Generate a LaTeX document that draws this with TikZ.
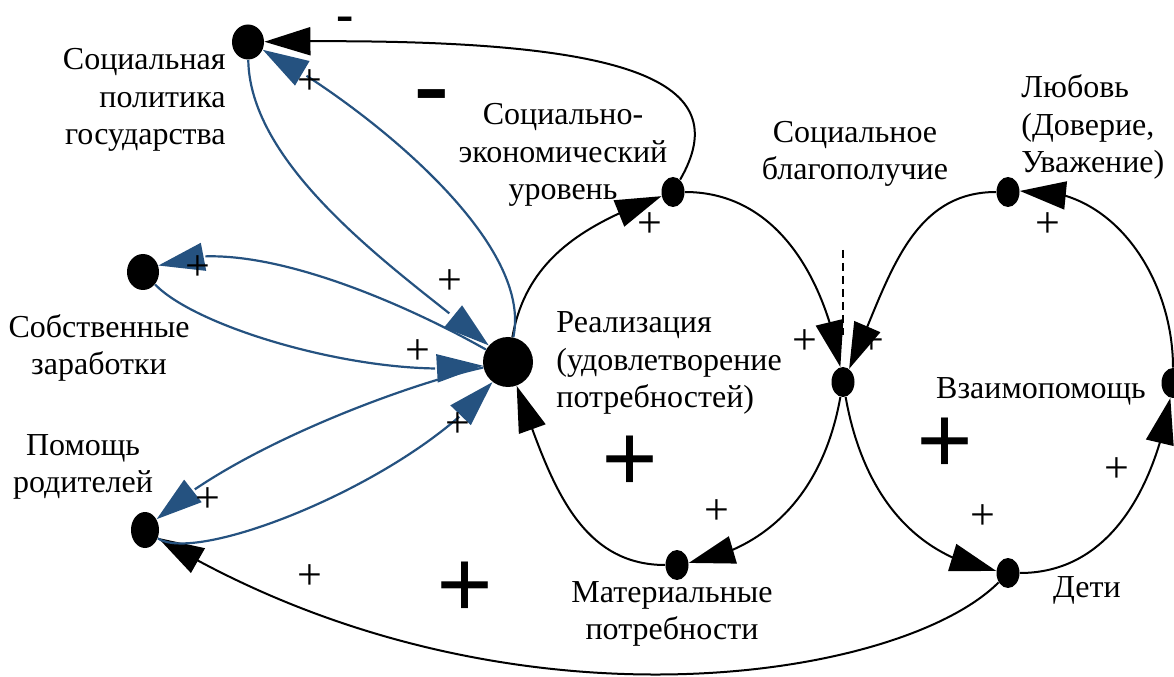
\documentclass[tikz,border=0pt]{standalone}
\usepackage{fontspec}
\setmainfont{Liberation Serif}
\usetikzlibrary{arrows.meta}
\usetikzlibrary{bending}
\usetikzlibrary{shapes.geometric}
\definecolor{linkblue}{RGB}{37,82,128}

\begin{document}
\begin{tikzpicture}[
    x=0.5pt, y=0.5pt,
    every node/.style={font=\fontsize{16}{18.75}\selectfont, inner sep=0pt},
    var/.style={ellipse, fill=black, minimum width=11.5pt, minimum height=15pt},
    flow/.style={-{Triangle[length=23pt, width=14pt]}, line width=1pt},
    blue flow/.style={flow, draw=linkblue, line width=1.1pt},
    pol sign/.style={font=\fontsize{22}{22}\selectfont},
    sign/.style={font=\fontsize{50}{50}\selectfont\bfseries}
    ]
    \useasboundingbox (0,0) rectangle (1174,676);

    % variables
    \node[var, minimum width=16pt, minimum height=17.5pt] (pol) at (248,634) {};
    \node[var, minimum width=16pt, minimum height=18pt] (earn) at (143,404) {};
    \node[var, minimum width=14pt, minimum height=18pt] (par) at (145,146) {};
    \node[var, circle, minimum size=25pt] (real) at (508,314) {};
    \node[var] (level) at (673,484) {};
    \node[var] (wel) at (843,294) {};
    \node[var] (love) at (1008,484) {};
    \node[var] (mutual) at (1173,293) {};
    \node[var] (kids) at (1008,103) {};
    \node[var] (need) at (677,111) {};

    % names
    \node[align=right, anchor=east] (polname) at (226,576) {Социальная\\политика\\государства};
    \node[align=center] (levelname) at (563,521) {Социально-\\экономический\\уровень};
    \node[align=center] (welname) at (855,522) {Социальное\\благополучие};
    \node[align=left, anchor=west] (lovename) at (1021,549) {Любовь\\(Доверие,\\Уважение)};
    \node[align=center] (earnname) at (99,328) {Собственные\\заработки};
    \node[align=left, anchor=west] (realname) at (556,313) {Реализация\\(удовлетворение\\потребностей)};
    \node[align=center] (parname) at (83,209) {Помощь\\родителей};
    \node (mutualname) at (1041,285) {Взаимопомощь};
    \node[align=center] (needname) at (672,62) {Материальные\\потребности};
    \node (kidsname) at (1087,86) {Дети};

    % left loop
    \draw[flow] (real) to[out=80, in=200] (level);
    \draw[flow] (level) to[out=0, in=100] (wel);
    \draw[flow] (wel) to[out=-100, in=10] (need);
    \draw[flow] (need) to[out=180, in=-70] (real);
    % right loop
    \draw[flow] (wel) to[out=-80, in=170] (kids);
    \draw[flow] (kids) to[out=0, in=-100] (mutual);
    \draw[flow] (mutual) to[out=90, in=5] (love);
    \draw[flow] (love) to[out=180, in=65] (wel);
    \coordinate (cut top) at (843,426);
    \coordinate (cut bot) at (843,341);
    \draw[dashed, line width=1pt, dash pattern=on 4pt off 2.5pt] (cut top) -- (cut bot);

    % feedback to the left
    \draw[flow] (level) .. controls (740,600) and (620,640) .. (pol);
    \draw[flow] (kids) .. controls (900,-5) and (500,-68) .. (par);
    \draw[blue flow] (pol) .. controls (250,500) and (420,390) .. (real);
    \draw[blue flow] (real) .. controls (535,440) and (350,580) .. (pol);
    \draw[blue flow] (earn) .. controls (200,345) and (380,295) .. (real);
    \draw[blue flow] (real) .. controls (400,375) and (240,445) .. (earn);
    \draw[blue flow] (par) .. controls (200,110) and (420,200) .. (real);
    \draw[blue flow] (real) .. controls (400,290) and (230,225) .. (par);

    % polarities
    \node[pol sign] (p1) at (310,594) {+};
    \node[pol sign] (p2) at (198,408) {+};
    \node[pol sign] (p3) at (450,394) {+};
    \node[pol sign] (p4) at (418,324) {+};
    \node[pol sign] (p5) at (458,251) {+};
    \node[pol sign] (p6) at (208,176) {+};
    \node[pol sign] (p7) at (310,99) {+};
    \node[pol sign] (p8) at (650,451) {+};
    \node[pol sign] (p9) at (805,334) {+};
    \node[pol sign] (p10) at (872,334) {+};
    \node[pol sign] (p11) at (1048,451) {+};
    \node[pol sign] (p12) at (1117,206) {+};
    \node[pol sign] (p13) at (983,159) {+};
    \node[pol sign] (p14) at (717,164) {+};
    \node[font=\fontsize{26}{26}\selectfont\bfseries] (m1) at (345,652) {-};
    \node[font=\fontsize{52}{52}\selectfont\bfseries] (m2) at (432,572) {-};
    \node[sign] (s1) at (630,212) {+};
    \node[sign] (s2) at (945,230) {+};
    \node[sign] (s3) at (465,86) {+};
\end{tikzpicture}
\end{document}
